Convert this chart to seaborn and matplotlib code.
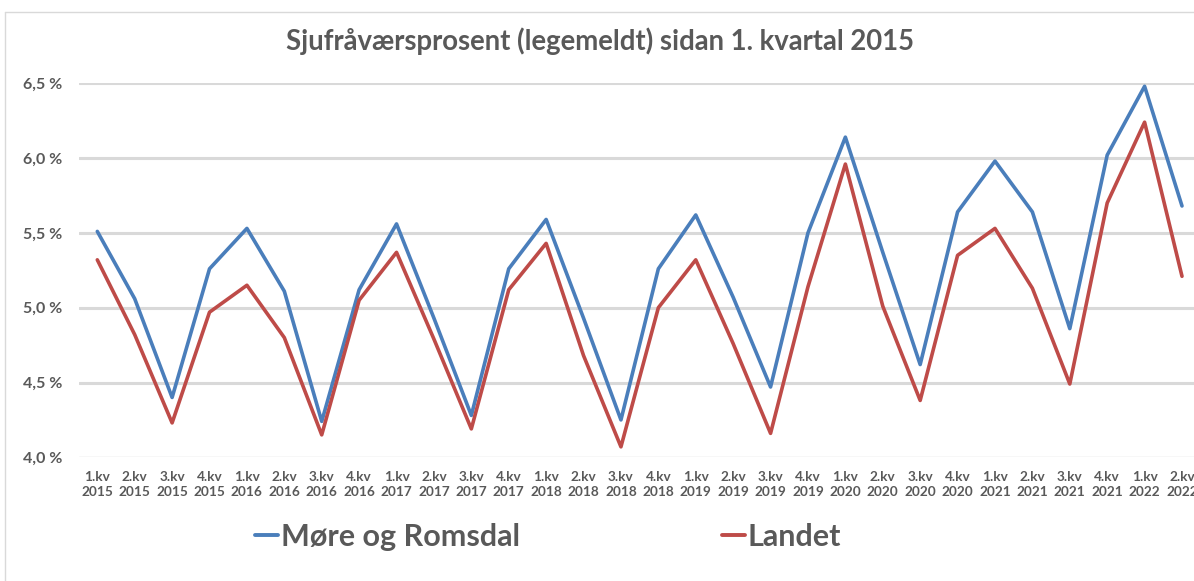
import pandas as pd
import seaborn as sns
import matplotlib.pyplot as plt
from matplotlib.lines import Line2D
from matplotlib.ticker import FuncFormatter

# Data: sickness absence (doctor-certified), per quarter
quarter_labels = [
    "1.kv\n2015", "2.kv\n2015", "3.kv\n2015", "4.kv\n2015",
    "1.kv\n2016", "2.kv\n2016", "3.kv\n2016", "4.kv\n2016",
    "1.kv\n2017", "2.kv\n2017", "3.kv\n2017", "4.kv\n2017",
    "1.kv\n2018", "2.kv\n2018", "3.kv\n2018", "4.kv\n2018",
    "1.kv\n2019", "2.kv\n2019", "3.kv\n2019", "4.kv\n2019",
    "1.kv\n2020", "2.kv\n2020", "3.kv\n2020", "4.kv\n2020",
    "1.kv\n2021", "2.kv\n2021", "3.kv\n2021", "4.kv\n2021",
    "1.kv\n2022", "2.kv\n2022",
]
more_romsdal = [5.51, 5.06, 4.40, 5.26, 5.53, 5.11, 4.24, 5.12,
                5.56, 4.93, 4.28, 5.26, 5.59, 4.93, 4.25, 5.26,
                5.62, 5.07, 4.47, 5.50, 6.14, 5.37, 4.62, 5.64,
                5.98, 5.64, 4.86, 6.02, 6.48, 5.68]
landet = [5.32, 4.82, 4.23, 4.97, 5.15, 4.80, 4.15, 5.05,
          5.37, 4.79, 4.19, 5.12, 5.43, 4.68, 4.07, 5.00,
          5.32, 4.76, 4.16, 5.14, 5.96, 5.01, 4.38, 5.35,
          5.53, 5.13, 4.49, 5.70, 6.24, 5.21]
y_ticks = [4.0, 4.5, 5.0, 5.5, 6.0, 6.5]

series_names = ["Møre og Romsdal", "Landet"]
colors = {"Møre og Romsdal": "#4A7EBB", "Landet": "#BE4B48"}
text_col = "#595959"
grid_col = "#D9D9D9"

df = pd.DataFrame({
    "idx": list(range(len(quarter_labels))) * 2,
    "value": more_romsdal + landet,
    "series": [series_names[0]] * len(more_romsdal) + [series_names[1]] * len(landet),
})

sns.set_theme(style="white")
plt.rcParams['font.family'] = ['Lato', 'DejaVu Sans']

W, H = 1194, 581
fig = plt.figure(figsize=(W / 100, H / 100), dpi=100)
ax = fig.add_axes([78.6 / W, (H - 457.3) / H, 1122.1 / W, 374 / H])

sns.lineplot(data=df, x="idx", y="value", hue="series", palette=colors,
             hue_order=series_names, lw=2.6, ax=ax, legend=False)

ax.set_xlim(-0.5, len(quarter_labels) - 0.5)
ax.set_ylim(y_ticks[0], y_ticks[-1])
ax.set_yticks(y_ticks)
ax.yaxis.set_major_formatter(FuncFormatter(lambda v, p: f"{v:.1f} %".replace(".", ",")))
ax.set_xticks(range(len(quarter_labels)))
ax.set_xticklabels(quarter_labels, fontsize=9.8, fontweight="bold",
                   color=text_col, linespacing=1.25)
for lab in ax.get_yticklabels():
    lab.set_fontsize(11.5)
    lab.set_fontweight("bold")
    lab.set_color(text_col)
ax.tick_params(axis="y", length=0, pad=12)
ax.tick_params(axis="x", length=0, pad=10)
ax.set_xlabel("")
ax.set_ylabel("")

ax.yaxis.grid(True, color=grid_col, lw=2.2)
ax.get_ygridlines()[0].set_linewidth(1.0)
ax.set_axisbelow(True)
for s in ["top", "right", "left", "bottom"]:
    ax.spines[s].set_visible(False)

# chart frame (left and top edges visible)
fig.add_artist(Line2D([5 / W, 5 / W], [0, 1 - 12 / H], transform=fig.transFigure,
                      color=grid_col, lw=1))
fig.add_artist(Line2D([5 / W, 1], [1 - 12 / H, 1 - 12 / H], transform=fig.transFigure,
                      color=grid_col, lw=1))

fig.text(600 / W, 1 - 41 / H, "Sjufråværsprosent (legemeldt) sidan 1. kvartal 2015",
         ha="center", va="center", fontsize=19.8, fontweight="bold", color=text_col)

handles = [Line2D([0], [0], color=colors[n], lw=2.8) for n in series_names]
leg = fig.legend(handles, series_names, loc="center", bbox_to_anchor=(548 / W, 1 - 537 / H),
                 ncol=2, frameon=False, handlelength=0.75, handletextpad=0.1,
                 columnspacing=6.6, prop={"size": 22, "weight": "bold"})
for t in leg.get_texts():
    t.set_color(text_col)

fig.savefig("out.png", dpi=100)
